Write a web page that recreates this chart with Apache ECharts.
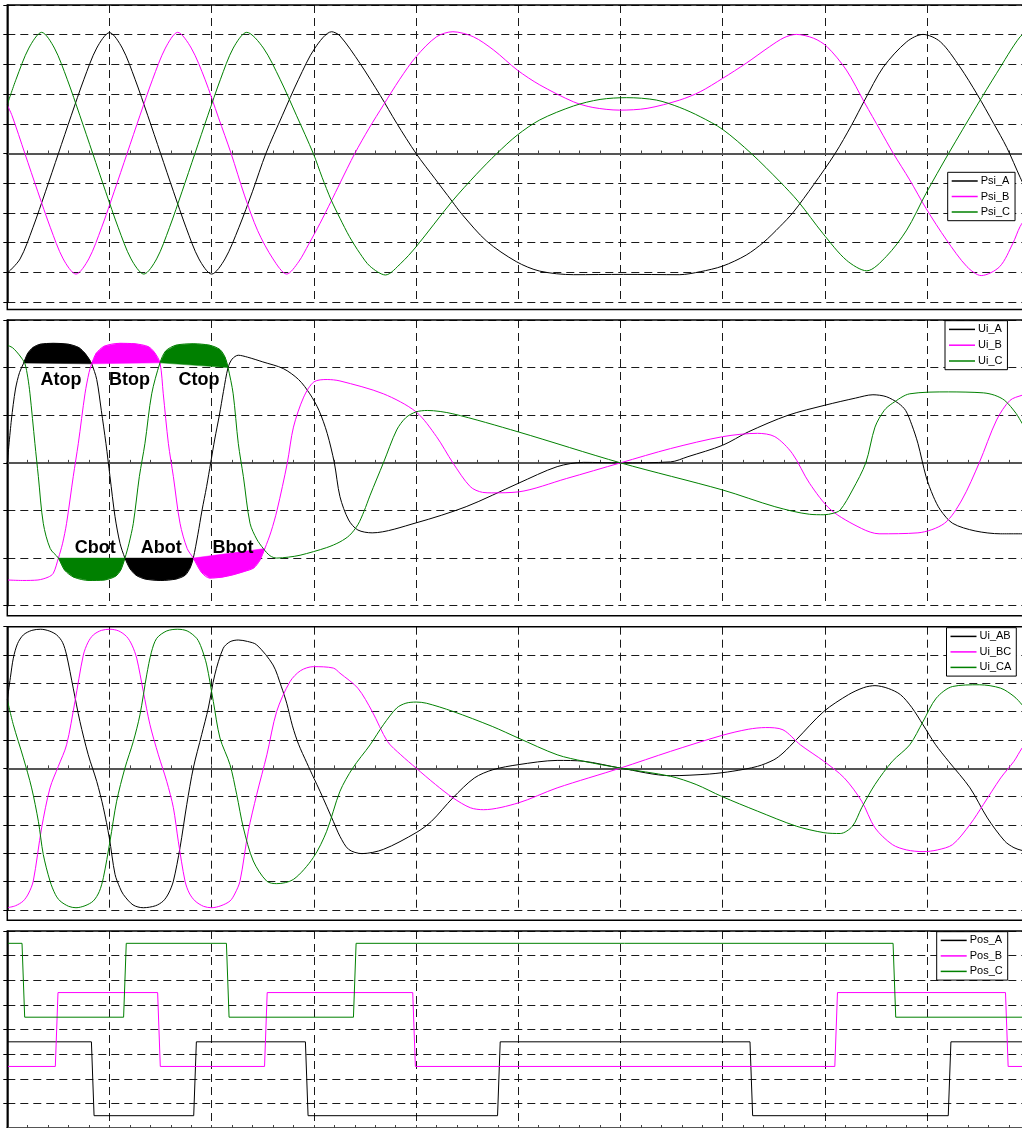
<!DOCTYPE html>
<html><head><meta charset="utf-8">
<script src="https://cdn.jsdelivr.net/npm/echarts@6/dist/echarts.min.js"></script>
<style>html,body{margin:0;padding:0;background:#fff}#c{width:1022px;height:1128px}</style>
</head><body><div id="c"></div>
<script>
// ---- Panel 1: flux linkage ----
const psiA = [[0,-4.03],[0.125,-3.55],[0.25,-2.5],[0.375,-1.27],[0.5,0],[0.625,1.27],[0.75,2.5],[0.875,3.55],[1.0,4.07],[1.125,3.55],[1.25,2.5],[1.375,1.27],[1.5,0],[1.625,-1.27],[1.75,-2.5],[1.875,-3.55],[2.0,-4.06],[2.13,-3.55],[2.265,-2.5],[2.4,-1.27],[2.53,0],[2.69,1.27],[2.85,2.5],[3.01,3.55],[3.174,4.1],[3.255,3.96],[3.45,3.04],[3.65,1.95],[3.81,1.02],[4.0,0],[4.185,-0.85],[4.35,-1.6],[4.45,-2.05],[4.69,-2.95],[4.98,-3.64],[5.21,-3.96],[5.54,-4.08],[6.03,-4.07],[6.58,-4.08],[6.78,-3.98],[7.0,-3.79],[7.23,-3.42],[7.4,-2.99],[7.56,-2.46],[7.69,-1.98],[7.89,-1.05],[8.1,0],[8.26,0.95],[8.39,1.8],[8.57,2.9],[8.8,3.76],[8.96,4.01],[9.13,3.76],[9.32,2.92],[9.49,1.99],[9.65,1.02],[9.78,0.2],[9.91,-0.8],[10,-1.45]];
const psiB = [[0,1.63],[0.047,1.27],[0.172,0],[0.297,-1.27],[0.422,-2.5],[0.547,-3.55],[0.672,-4.06],[0.797,-3.55],[0.922,-2.5],[1.047,-1.27],[1.172,0],[1.297,1.27],[1.422,2.5],[1.547,3.55],[1.667,4.08],[1.8,3.55],[1.934,2.5],[2.067,1.2],[2.19,0],[2.32,-1.4],[2.45,-2.6],[2.6,-3.55],[2.734,-4.06],[2.85,-3.65],[2.95,-3.05],[3.06,-2.35],[3.167,-1.62],[3.255,-1.0],[3.4,0],[3.54,0.85],[3.68,1.63],[3.84,2.5],[4.0,3.26],[4.2,3.93],[4.36,4.1],[4.56,3.93],[4.76,3.48],[4.99,2.81],[5.21,2.31],[5.54,1.74],[5.73,1.55],[5.99,1.46],[6.26,1.52],[6.58,1.8],[6.78,2.08],[7.0,2.53],[7.23,3.04],[7.46,3.6],[7.6,3.9],[7.72,4.01],[7.89,3.88],[8.02,3.6],[8.21,2.81],[8.39,1.7],[8.54,0.79],[8.67,0],[8.83,-0.89],[8.99,-1.85],[9.19,-2.91],[9.39,-3.81],[9.53,-4.11],[9.71,-3.81],[9.84,-3.02],[9.91,-2.46],[10,-2.0]];
const psiC = [[0,1.65],[0.086,2.5],[0.211,3.55],[0.336,4.08],[0.461,3.55],[0.586,2.5],[0.711,1.27],[0.836,0],[0.961,-1.27],[1.086,-2.5],[1.211,-3.55],[1.336,-4.06],[1.461,-3.55],[1.586,-2.5],[1.711,-1.27],[1.836,0],[1.961,1.27],[2.086,2.5],[2.211,3.55],[2.343,4.08],[2.506,3.55],[2.669,2.5],[2.831,1.27],[2.994,0],[3.08,-0.8],[3.167,-1.55],[3.255,-2.18],[3.348,-2.8],[3.45,-3.36],[3.55,-3.8],[3.7,-4.09],[3.85,-3.7],[4.0,-3.14],[4.35,-1.62],[4.59,-0.7],[4.79,0],[4.99,0.62],[5.21,1.13],[5.54,1.6],[5.8,1.82],[6.06,1.88],[6.35,1.8],[6.58,1.55],[6.78,1.24],[7.0,0.81],[7.28,0],[7.56,-0.95],[7.74,-1.62],[7.98,-2.69],[8.21,-3.59],[8.41,-3.95],[8.6,-3.47],[8.8,-2.58],[8.99,-1.34],[9.21,0],[9.49,1.63],[9.68,2.7],[9.91,3.93],[10,4.1]];
// ---- Panel 2: phase voltages ----
const uiA = [[0,0],[0.04,0.9],[0.08,1.55],[0.12,1.9],[0.157,2.08],[0.2,2.3],[0.25,2.42],[0.32,2.49],[0.45,2.51],[0.6,2.49],[0.7,2.42],[0.76,2.3],[0.8,2.18],[0.826,2.08],[0.875,1.75],[0.92,1.1],[0.965,0.41],[1.005,-0.29],[1.054,-1.13],[1.103,-1.69],[1.151,-2.0],[1.2,-2.22],[1.26,-2.36],[1.35,-2.44],[1.5,-2.47],[1.65,-2.44],[1.74,-2.36],[1.79,-2.2],[1.82,-2.0],[1.865,-1.5],[1.905,-1.0],[1.95,-0.5],[1.99,0],[2.03,0.5],[2.075,1.0],[2.115,1.5],[2.16,2.0],[2.2,2.18],[2.26,2.26],[2.35,2.22],[2.5,2.12],[2.7,1.98],[2.85,1.75],[2.96,1.45],[3.05,1.1],[3.13,0.62],[3.2,0.0],[3.255,-0.71],[3.34,-1.2],[3.43,-1.41],[3.57,-1.47],[4.0,-1.26],[4.49,-0.92],[5.0,-0.43],[5.38,-0.08],[5.64,0.01],[6.0,0],[6.49,0.02],[6.66,0.13],[7.0,0.37],[7.25,0.65],[7.64,1.0],[8.0,1.21],[8.3,1.36],[8.47,1.43],[8.6,1.39],[8.72,1.25],[8.79,1.1],[8.85,0.8],[8.91,0.41],[8.99,-0.29],[9.06,-0.7],[9.13,-0.99],[9.25,-1.27],[9.47,-1.43],[9.72,-1.49],[10,-1.49]];
const uiB = [[0,-2.46],[0.15,-2.47],[0.3,-2.46],[0.4,-2.4],[0.45,-2.32],[0.5,-2.0],[0.54,-1.7],[0.58,-1.27],[0.645,-0.29],[0.695,0.41],[0.76,1.45],[0.8,1.9],[0.826,2.08],[0.87,2.3],[0.95,2.45],[1.1,2.51],[1.25,2.5],[1.38,2.44],[1.44,2.32],[1.494,2.1],[1.526,1.45],[1.576,0.41],[1.625,-0.29],[1.69,-1.27],[1.76,-1.8],[1.82,-2.0],[1.9,-2.3],[1.98,-2.42],[2.1,-2.4],[2.21,-2.35],[2.32,-2.28],[2.41,-2.21],[2.47,-2.05],[2.52,-1.8],[2.58,-1.45],[2.64,-0.99],[2.74,0],[2.8,0.75],[2.9,1.38],[3.0,1.7],[3.13,1.75],[3.255,1.72],[3.68,1.45],[4.0,1.07],[4.2,0.55],[4.36,0],[4.53,-0.5],[4.65,-0.62],[4.74,-0.63],[5.0,-0.61],[5.47,-0.33],[6.0,0],[6.49,0.3],[7.0,0.55],[7.34,0.62],[7.51,0.55],[7.68,0.2],[7.85,-0.43],[8.06,-0.99],[8.36,-1.38],[8.53,-1.49],[8.91,-1.47],[9.17,-1.27],[9.34,-0.78],[9.51,0],[9.68,0.9],[9.81,1.31],[9.93,1.42],[10,1.45]];
const uiC = [[0,2.47],[0.05,2.42],[0.092,2.33],[0.14,2.2],[0.173,2.08],[0.2,1.8],[0.222,1.45],[0.27,0.41],[0.304,-0.29],[0.352,-1.27],[0.42,-1.8],[0.5,-2.0],[0.56,-2.25],[0.65,-2.4],[0.8,-2.47],[0.95,-2.46],[1.06,-2.38],[1.11,-2.25],[1.151,-2.0],[1.19,-1.7],[1.233,-1.27],[1.292,-0.29],[1.347,0.41],[1.413,1.45],[1.494,2.1],[1.55,2.35],[1.65,2.47],[1.82,2.5],[1.98,2.47],[2.08,2.38],[2.13,2.22],[2.16,2.0],[2.21,1.45],[2.26,0.41],[2.31,-0.29],[2.375,-1.27],[2.44,-1.6],[2.505,-1.8],[2.57,-1.95],[2.636,-2.0],[2.75,-1.98],[2.865,-1.94],[3.125,-1.78],[3.255,-1.66],[3.35,-1.52],[3.43,-1.3],[3.49,-1.02],[3.55,-0.68],[3.68,0],[3.81,0.69],[3.9,0.95],[4.0,1.07],[4.11,1.1],[4.36,1.03],[5.0,0.65],[6.0,0],[7.0,-0.57],[7.51,-0.92],[7.85,-1.08],[7.99,-1.09],[8.08,-1.06],[8.15,-0.99],[8.27,-0.57],[8.4,0],[8.49,0.75],[8.58,1.1],[8.66,1.25],[8.83,1.45],[9.21,1.49],[9.55,1.47],[9.66,1.42],[9.76,1.31],[9.87,1.04],[9.93,0.83],[10,0.6]];
// ---- Panel 3: line-to-line voltages ----
const uiAB = [[0,2.42],[0.03,3.2],[0.059,3.89],[0.1,4.4],[0.157,4.71],[0.24,4.87],[0.327,4.91],[0.41,4.85],[0.483,4.71],[0.54,4.45],[0.58,4.0],[0.645,2.83],[0.711,1.65],[0.792,0.48],[0.875,-0.46],[0.94,-1.39],[0.998,-2.45],[1.054,-3.74],[1.1,-4.2],[1.135,-4.45],[1.23,-4.82],[1.331,-4.92],[1.45,-4.85],[1.527,-4.68],[1.58,-4.4],[1.625,-3.98],[1.69,-2.8],[1.756,-1.28],[1.82,0.01],[1.902,1.19],[1.967,2.13],[2.03,3.3],[2.113,4.24],[2.18,4.47],[2.26,4.53],[2.35,4.48],[2.44,4.36],[2.6,3.65],[2.68,2.9],[2.734,2.3],[2.79,1.5],[2.85,0.85],[2.93,0.2],[3.0,-0.35],[3.06,-0.81],[3.19,-1.87],[3.255,-2.4],[3.34,-2.86],[3.47,-3.01],[3.68,-2.86],[4.0,-2.27],[4.15,-1.87],[4.36,-1.04],[4.57,-0.34],[4.75,-0.05],[5.0,0.13],[5.38,0.28],[5.64,0.25],[6.0,0.01],[6.49,-0.26],[6.87,-0.2],[7.1,-0.1],[7.34,0.07],[7.5,0.3],[7.59,0.54],[7.72,1.01],[7.99,2.01],[8.23,2.6],[8.38,2.85],[8.49,2.92],[8.62,2.82],[8.74,2.6],[8.85,2.15],[8.96,1.54],[9.08,0.85],[9.21,0.25],[9.42,-0.69],[9.59,-1.75],[9.76,-2.57],[9.85,-2.8],[9.93,-2.9],[10,-2.95]];
const uiBC = [[0,-4.92],[0.08,-4.85],[0.157,-4.68],[0.21,-4.4],[0.254,-3.98],[0.336,-2.1],[0.418,-0.69],[0.499,0.07],[0.58,0.83],[0.662,2.36],[0.744,4.0],[0.79,4.45],[0.842,4.71],[0.92,4.87],[1.005,4.91],[1.09,4.85],[1.168,4.65],[1.22,4.35],[1.266,3.89],[1.331,2.71],[1.396,1.54],[1.478,0.48],[1.56,-0.46],[1.625,-1.39],[1.673,-2.57],[1.739,-3.98],[1.78,-4.4],[1.837,-4.68],[1.92,-4.87],[2.0,-4.92],[2.09,-4.85],[2.18,-4.68],[2.23,-4.4],[2.277,-3.98],[2.358,-2.22],[2.44,-0.93],[2.54,0.48],[2.636,2.01],[2.766,3.06],[2.87,3.45],[2.994,3.59],[3.19,3.54],[3.255,3.36],[3.43,2.83],[3.57,2.01],[3.72,0.95],[3.85,0.48],[4.0,0.01],[4.19,-0.57],[4.36,-1.04],[4.53,-1.39],[4.66,-1.46],[5.0,-1.22],[5.38,-0.69],[6.0,0.01],[6.49,0.6],[6.99,1.16],[7.25,1.38],[7.42,1.44],[7.59,1.36],[7.76,0.83],[7.99,0.25],[8.19,-0.34],[8.36,-1.16],[8.49,-2.1],[8.66,-2.69],[8.8,-2.88],[8.96,-2.94],[9.1,-2.88],[9.25,-2.69],[9.42,-1.98],[9.55,-1.28],[9.72,-0.34],[9.85,0.25],[9.93,0.72],[10,1.0]];
const uiCA = [[0,2.42],[0.059,1.54],[0.157,0.37],[0.238,-0.69],[0.304,-1.87],[0.352,-3.04],[0.418,-3.98],[0.47,-4.45],[0.516,-4.68],[0.6,-4.87],[0.672,-4.92],[0.76,-4.85],[0.842,-4.68],[0.9,-4.35],[0.94,-3.86],[1.005,-2.57],[1.07,-1.16],[1.151,0.01],[1.233,0.95],[1.298,1.89],[1.364,3.3],[1.41,4.1],[1.462,4.59],[1.56,4.85],[1.667,4.91],[1.76,4.85],[1.853,4.59],[1.9,4.25],[1.951,3.65],[2.016,2.36],[2.081,1.07],[2.179,0.13],[2.245,-0.93],[2.31,-2.1],[2.407,-3.27],[2.538,-3.98],[2.636,-4.07],[2.8,-3.92],[2.994,-3.15],[3.125,-2.22],[3.255,-0.81],[3.38,0.01],[3.55,0.83],[3.68,1.54],[3.81,2.13],[3.9,2.3],[4.0,2.34],[4.1,2.3],[4.36,2.01],[4.745,1.48],[5.0,1.07],[5.38,0.48],[5.64,0.25],[6.0,0.01],[6.49,-0.28],[6.74,-0.57],[6.99,-0.99],[7.34,-1.51],[7.72,-2.04],[7.99,-2.27],[8.15,-2.3],[8.27,-2.04],[8.36,-1.39],[8.49,-0.57],[8.66,0.25],[8.83,0.83],[8.96,1.65],[9.09,2.48],[9.25,2.89],[9.51,2.95],[9.72,2.83],[9.85,2.54],[9.93,2.24],[10,1.9]];
// ---- Panel 4: position signals ----
const posA = [[0,3.5],[0.823,3.5],[0.849,0.5],[1.824,0.5],[1.85,3.5],[2.917,3.5],[2.943,0.5],[4.797,0.5],[4.823,3.5],[7.267,3.5],[7.293,0.5],[9.207,0.5],[9.233,3.5],[10,3.5]];
const posB = [[0,2.5],[0.47,2.5],[0.496,5.5],[1.471,5.5],[1.497,2.5],[2.517,2.5],[2.543,5.5],[3.967,5.5],[3.993,2.5],[8.097,2.5],[8.123,5.5],[9.767,5.5],[9.793,2.5],[10,2.5]];
const posC = [[0,7.5],[0.144,7.5],[0.17,4.5],[1.138,4.5],[1.164,7.5],[2.144,7.5],[2.17,4.5],[3.387,4.5],[3.413,7.5],[8.667,7.5],[8.693,4.5],[10,4.5]];
// names
const psiNames = ['Psi_A','Psi_B','Psi_C'];
const uiNames = ['Ui_A','Ui_B','Ui_C'];
const uiLLNames = ['Ui_AB','Ui_BC','Ui_CA'];
const posNames = ['Pos_A','Pos_B','Pos_C'];
// shaded conduction regions on panel 2: [label, curve, from, to]
const fillRegions = [['Atop','A',0.16,0.826],['Btop','B',0.826,1.494],['Ctop','C',1.494,2.16],['Cbot','C',0.5,1.151],['Abot','A',1.151,1.82],['Bbot','B',1.82,2.52]];
// annotation anchors (data coords on panel 2)
const labelAnchors = [['Atop',0.525,1.74],['Btop',1.196,1.74],['Ctop',1.876,1.74],['Cbot',0.861,-1.79],['Abot',1.507,-1.79],['Bbot',2.208,-1.79]];

const COLORS = ['#000000','#ff00ff','#008000'];
const FONT = '"Liberation Sans", Arial, sans-serif';
const panels = [
  {top:5, height:297, frameBottom:309.5, min:-5, max:5},
  {top:320, height:285.7, frameBottom:615.7, min:-3, max:3},
  {top:626.7, height:283.3, frameBottom:920.3, min:-5, max:5},
  {top:931, height:197, frameBottom:1140, min:0, max:8}
];
const curveMap = {A:uiA, B:uiB, C:uiC};
const colorMap = {A:COLORS[0], B:COLORS[1], C:COLORS[2]};

function segment(pts, a, b){
  const out = [];
  const interp = (x)=>{ for(let i=0;i<pts.length-1;i++){ if(pts[i][0]<=x && pts[i+1][0]>=x){ const t=(x-pts[i][0])/(pts[i+1][0]-pts[i][0]||1); return [x, pts[i][1]+t*(pts[i+1][1]-pts[i][1])]; } } return pts[pts.length-1]; };
  out.push(interp(a));
  pts.forEach(p=>{ if(p[0]>a && p[0]<b) out.push(p); });
  out.push(interp(b));
  return out;
}

const chart = echarts.init(document.getElementById('c'), null, {renderer:'canvas'});
const grids = panels.map(p=>({left:7.3, right:-7.3, top:p.top, height:p.height, containLabel:false, outerBoundsMode:'none'}));
const xAxes = panels.map((p,i)=>({
  gridIndex:i, type:'value', min:0, max:10, interval:1,
  axisLine:{show:true, onZero:true, lineStyle:{color:'#555', width:2}},
  axisTick:{show:true, inside:true, length:3, lineStyle:{color:'#444', width:1}},
  minorTick:{show:true, splitNumber:5, length:3, lineStyle:{color:'#444', width:1}},
  axisLabel:{show:false},
  splitLine:{show:true, lineStyle:{color:'#1a1a1a', width:1, type:[8,5]}}
}));
const yAxes = panels.map((p,i)=>({
  gridIndex:i, type:'value', min:p.min, max:p.max, interval:1,
  axisLine:{show:true, onZero:false, lineStyle:{color:'#000', width:1.5}},
  axisTick:{show:true, length:4, lineStyle:{color:'#000', width:1}},
  axisLabel:{show:false},
  splitLine:{show:true, lineStyle:{color:'#1a1a1a', width:1, type:[8,5]}}
}));

function lineSeries(name, data, idx, color, smooth){
  return {name, type:'line', xAxisIndex:idx, yAxisIndex:idx, data, color,
    showSymbol:false, symbol:'none', smooth: smooth ? 0.3 : false,
    lineStyle:{color, width:1}, z:3, animation:false, silent:true};
}
const series = [];
[psiA,psiB,psiC].forEach((d,k)=>series.push(lineSeries(psiNames[k], d, 0, COLORS[k], true)));
[uiA,uiB,uiC].forEach((d,k)=>series.push(lineSeries(uiNames[k], d, 1, COLORS[k], true)));
[uiAB,uiBC,uiCA].forEach((d,k)=>series.push(lineSeries(uiLLNames[k], d, 2, COLORS[k], true)));
[posA,posB,posC].forEach((d,k)=>series.push(lineSeries(posNames[k], d, 3, COLORS[k], false)));

series.push({
  name:'fills', type:'custom', xAxisIndex:1, yAxisIndex:1, z:2, silent:true, animation:false,
  data: fillRegions.map(r=>[r[2], 0]),
  encode:{x:0, y:1},
  renderItem:(params, api)=>{
    const r = fillRegions[params.dataIndex];
    const pts = segment(curveMap[r[1]], r[2], r[3]).map(p=>api.coord(p));
    return {type:'polygon', shape:{points:pts}, style:{fill:colorMap[r[1]], stroke:colorMap[r[1]], lineWidth:0.5}};
  }
});
series.push({
  name:'labels', type:'custom', xAxisIndex:1, yAxisIndex:1, z:10, silent:true, animation:false,
  data: labelAnchors.map(a=>[a[1], a[2]]),
  encode:{x:0, y:1},
  renderItem:(params, api)=>{
    const p = api.coord([api.value(0), api.value(1)]);
    return {type:'text', x:p[0], y:p[1], style:{text:labelAnchors[params.dataIndex][0], fill:'#000',
      font:'bold 18px "Liberation Sans", Arial, sans-serif', align:'center', verticalAlign:'middle'}};
  }
});

const legendPos = [
  {names:psiNames, left:947.7, top:172.3, gap:4.5},
  {names:uiNames, left:945, top:320.7, gap:4.8},
  {names:uiLLNames, left:946.5, top:627.7, gap:4.5},
  {names:posNames, left:936.7, top:931.7, gap:4.5}
];
const legends = legendPos.map(l=>({
  data:l.names, orient:'vertical', left:l.left, top:l.top, itemGap:l.gap,
  icon:'rect', itemWidth:26, itemHeight:1.5, padding:[3.2,5,3.2,4],
  backgroundColor:'#fff', borderColor:'#000', borderWidth:1, borderRadius:0,
  selectedMode:false, z:20,
  textStyle:{fontFamily:FONT, fontSize:11, color:'#000', padding:[0,0,0,-2]}
}));

const graphics = panels.map(p=>({type:'rect', silent:true, z:60,
  shape:{x:7.3, y:p.top, width:1040, height:p.frameBottom-p.top},
  style:{fill:null, stroke:'#000', lineWidth:1.5}}));

chart.setOption({
  animation:false,
  backgroundColor:'#fff',
  textStyle:{fontFamily:FONT},
  grid:grids, xAxis:xAxes, yAxis:yAxes,
  legend:legends, series, graphic:graphics
});
</script></body></html>
